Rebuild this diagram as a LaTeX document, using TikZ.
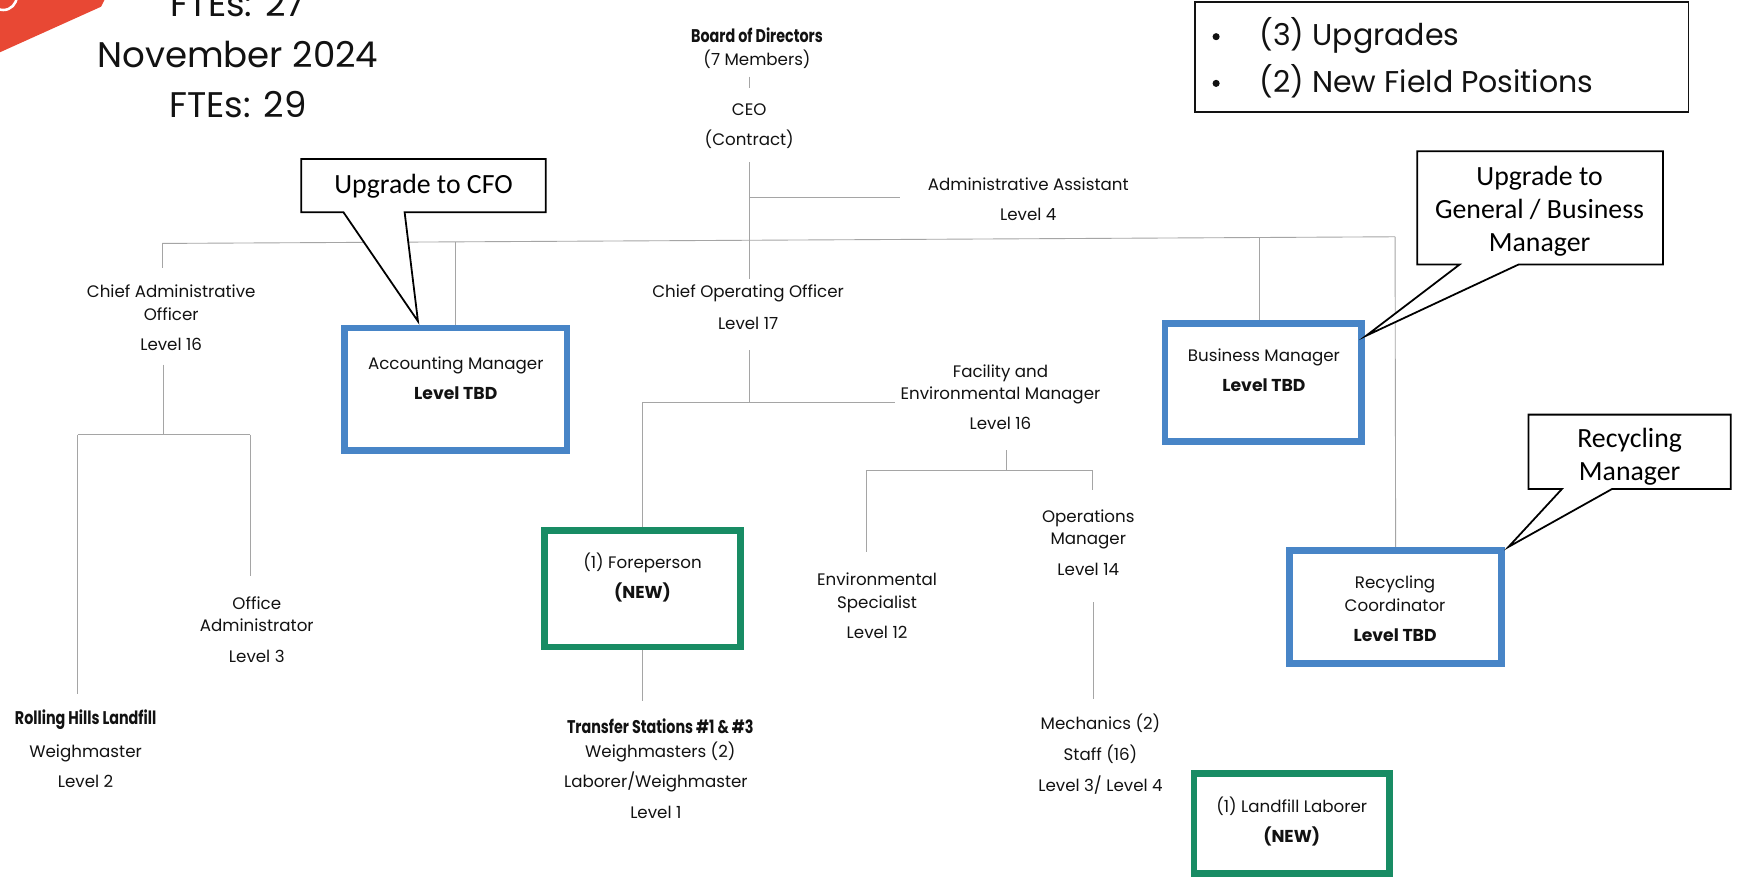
\documentclass[tikz,border=0pt]{standalone}
\usepackage{fontspec}
\setmainfont{Poppins}
\newfontfamily\condf[FakeStretch=0.78]{Poppins}
\newfontfamily\calib{Carlito}
\definecolor{boxblue}{RGB}{72,133,199}
\definecolor{boxgreen}{RGB}{24,140,100}
\definecolor{tagred}{RGB}{232,72,52}
\definecolor{txtc}{RGB}{18,18,18}
\definecolor{linegray}{RGB}{165,165,165}
\begin{document}
\begin{tikzpicture}[x=1pt,y=-1pt,
  t/.style={anchor=base, inner sep=0pt, text=txtc, font=\fontsize{15}{17}\selectfont},
  tb/.style={anchor=base, inner sep=0pt, text=txtc, font=\fontsize{15.5}{17}\selectfont\bfseries},
  tc/.style={anchor=base, inner sep=0pt, text=txtc, font=\condf\bfseries\fontsize{16.5}{18}\selectfont},
  big/.style={anchor=base, inner sep=0pt, text=txtc, font=\fontsize{32}{36}\selectfont},
  leg/.style={anchor=base west, inner sep=0pt, text=txtc, font=\fontsize{27}{30}\selectfont},
  call/.style={anchor=base, inner sep=0pt, text=black, font=\calib\fontsize{25}{30}\selectfont},
  conn/.style={draw=linegray, line width=0.8pt},
  bluebox/.style={draw=boxblue, line width=6pt, inner sep=0pt},
  greenbox/.style={draw=boxgreen, line width=6pt, inner sep=0pt},
  callout/.style={draw=black, line width=1.6pt, fill=white, line join=miter},
  legbox/.style={draw=txtc, line width=1.6pt, inner sep=0pt},
]
\useasboundingbox (0,0) rectangle (1568,799);
\fill[white] (0,0) rectangle (1568,799);

% red tag in the corner
\fill[tagred] (0,0) -- (94,0) -- (91,6) -- (0,47) -- cycle;
\draw[white, line width=2.3pt] (3,-3) circle (12);

% titles
\node[big] (fte27) at (214,15) {FTEs: 27};
\node[big] (nov) at (214,61) {November 2024};
\node[big] (fte29) at (214,106) {FTEs: 29};

% legend
\node[legbox, minimum width=444pt, minimum height=99pt] (legend) at (1297,51.5) {};
\fill[txtc] (1094,33) circle (3.2);
\node[leg] (leg1) at (1133,41) {(3) Upgrades};
\fill[txtc] (1094,75) circle (3.2);
\node[leg] (leg2) at (1133,83) {(2) New Field Positions};

% connectors
\coordinate (bodB) at (674,69); \coordinate (ceoT) at (674,79);
\draw[conn] (bodB) -- (ceoT);
\coordinate (ceoB) at (674,146); \coordinate (cooT) at (674,251);
\draw[conn] (ceoB) -- (cooT);
\coordinate (aaJ) at (674,178); \coordinate (aaE) at (810,178);
\draw[conn] (aaJ) -- (aaE);
\coordinate (mainL) at (146,219); \coordinate (mainR) at (1255,213);
\draw[conn] (mainL) -- (mainR);
\coordinate (caoT) at (146,241);
\draw[conn] (mainL) -- (caoT);
\coordinate (accJ) at (410,217.6);
\coordinate (bmJ) at (1133,213.7); \coordinate (bmT) at (1133,291);
\draw[conn] (bmJ) -- (bmT);

\coordinate (caoB) at (147,328); \coordinate (caoJ) at (147,391);
\draw[conn] (caoB) -- (caoJ);
\coordinate (rhJ) at (70,391); \coordinate (offJ) at (225,391);
\draw[conn] (rhJ) -- (offJ);
\coordinate (rhT) at (70,624); \coordinate (offT) at (225,518);
\draw[conn] (rhJ) -- (rhT);
\draw[conn] (offJ) -- (offT);

\coordinate (cooB) at (674,315); \coordinate (cooJ) at (674,362);
\draw[conn] (cooB) -- (cooJ);
\coordinate (foreJ) at (578,362); \coordinate (femE) at (805,362);
\draw[conn] (foreJ) -- (femE);
\coordinate (tsT) at (578,631);

\coordinate (femB) at (905,405); \coordinate (femJ) at (905,423);
\draw[conn] (femB) -- (femJ);
\coordinate (envJ) at (779,423); \coordinate (opsJ) at (983,423);
\draw[conn] (envJ) -- (opsJ);
\coordinate (envT) at (779,497); \coordinate (opsT) at (983,441);
\draw[conn] (envJ) -- (envT);
\draw[conn] (opsJ) -- (opsT);
\coordinate (opsB) at (984,542); \coordinate (mechT) at (984,629);
\draw[conn] (opsB) -- (mechT);

% boxes
\node[bluebox, minimum width=200pt, minimum height=110pt] (acc) at (410,350) {};
\node[bluebox, minimum width=177pt, minimum height=106pt] (bm) at (1136.5,344) {};
\node[bluebox, minimum width=191pt, minimum height=102pt] (rc) at (1255.5,546) {};
\node[greenbox, minimum width=176pt, minimum height=105pt] (fore) at (578,529.5) {};
\node[greenbox, minimum width=176pt, minimum height=90pt] (ll) at (1162,741) {};
\draw[conn] (accJ) -- (acc.north);
\draw[conn] (mainR) -- (rc.north);
\draw[conn] (foreJ) -- (fore.north);
\draw[conn] (fore.south) -- (tsT);

% callouts
\draw[callout] (271,143) -- (491,143) -- (491,191) -- (364,191) -- (376,289) -- (309,191) -- (271,191) -- cycle;
\node[call] (cfo) at (381,174) {Upgrade to CFO};
\draw[callout] (1275,136) -- (1496,136) -- (1496,238) -- (1366,238) -- (1229,302) -- (1313,238) -- (1275,238) -- cycle;
\node[call] (gen1) at (1385,167) {Upgrade to};
\node[call] (gen2) at (1385,197) {General / Business};
\node[call] (gen3) at (1385,226) {Manager};
\draw[callout] (1375,373) -- (1557,373) -- (1557,440) -- (1450,440) -- (1357,492) -- (1405,440) -- (1375,440) -- cycle;
\node[call] (rm1) at (1466,403) {Recycling};
\node[call] (rm2) at (1466,432) {Manager};

% texts
\node[tc] (bod1) at (681,38) {Board of Directors};
\node[t] (bod2) at (681,59) {(7 Members)};
\node[t] (ceo1) at (674,104) {CEO};
\node[t] (ceo2) at (674,131) {(Contract)};
\node[t] (aa1) at (925,171) {Administrative Assistant};
\node[t] (aa2) at (925,198) {Level 4};
\node[t] (cao1) at (154,268) {Chief Administrative};
\node[t] (cao2) at (154,288) {Officer};
\node[t] (cao3) at (154,315) {Level 16};
\node[t] (acc1) at (410,332) {Accounting Manager};
\node[tb] (acc2) at (410,359) {Level TBD};
\node[t] (coo1) at (673,268) {Chief Operating Officer};
\node[t] (coo2) at (673,296) {Level 17};
\node[t] (fem1) at (900,340) {Facility and};
\node[t] (fem2) at (900,359) {Environmental Manager};
\node[t] (fem3) at (900,386) {Level 16};
\node[t] (fore1) at (578,511) {(1) Foreperson};
\node[tb] (fore2) at (578,538) {(NEW)};
\node[t] (env1) at (789,527) {Environmental};
\node[t] (env2) at (789,547) {Specialist};
\node[t] (env3) at (789,574) {Level 12};
\node[t] (ops1) at (979,470) {Operations};
\node[t] (ops2) at (979,490) {Manager};
\node[t] (ops3) at (979,518) {Level 14};
\node[t] (off1) at (231,548) {Office};
\node[t] (off2) at (231,568) {Administrator};
\node[t] (off3) at (231,596) {Level 3};
\node[tc] (rh1) at (77,652) {Rolling Hills Landfill};
\node[t] (rh2) at (77,681) {Weighmaster};
\node[t] (rh3) at (77,708) {Level 2};
\node[tc] (ts1) at (594,660) {Transfer Stations \#1 \& \#3};
\node[t] (ts2) at (594,681) {Weighmasters (2)};
\node[t] (ts3) at (590,708) {Laborer/Weighmaster};
\node[t] (ts4) at (590,736) {Level 1};
\node[t] (mech1) at (990,656) {Mechanics (2)};
\node[t] (mech2) at (990,684) {Staff (16)};
\node[t] (mech3) at (990,712) {Level 3/ Level 4};
\node[t] (ll1) at (1162,731) {(1) Landfill Laborer};
\node[tb] (ll2) at (1162,758) {(NEW)};
\node[t] (bm1) at (1137,325) {Business Manager};
\node[tb] (bm2) at (1137,352) {Level TBD};
\node[t] (rc1) at (1255,529) {Recycling};
\node[t] (rc2) at (1255,550) {Coordinator};
\node[tb] (rc3) at (1255,577) {Level TBD};
\end{tikzpicture}
\end{document}
